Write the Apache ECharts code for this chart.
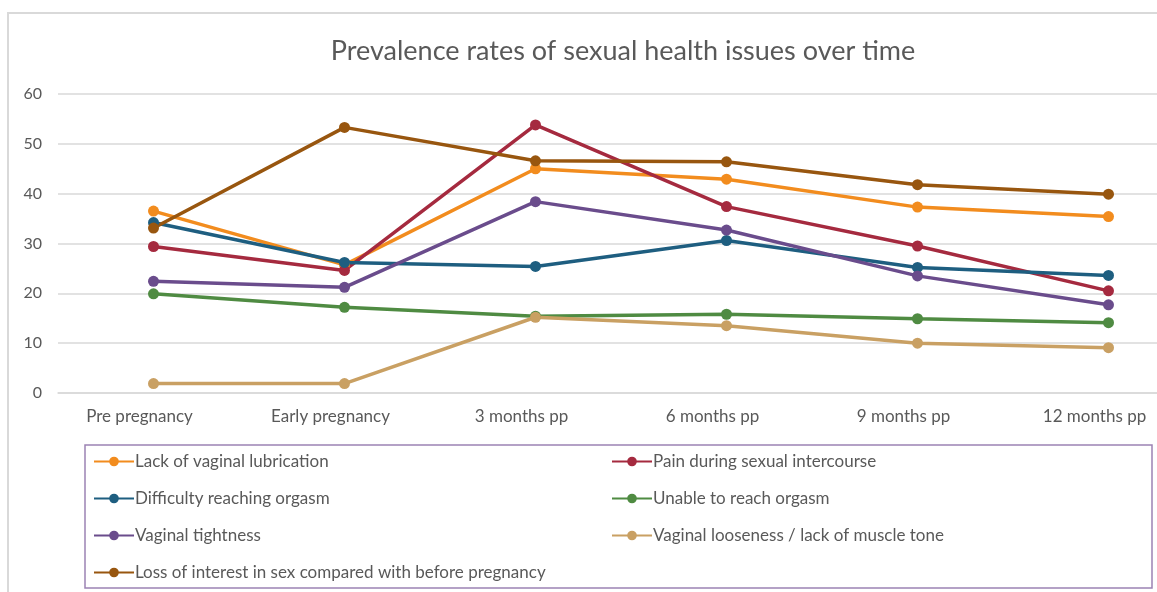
<!DOCTYPE html>
<html>
<head>
<meta charset="utf-8">
<script src="https://cdn.jsdelivr.net/npm/echarts@6/dist/echarts.min.js"></script>
<style>
  html, body { margin: 0; padding: 0; background: #fff; }
  #chart { width: 1157px; height: 592px; }
</style>
</head>
<body>
<div id="chart"></div>
<script>
const categories = ['Pre pregnancy', 'Early pregnancy', '3 months pp', '6 months pp', '9 months pp', '12 months pp']

const lubrication = [36.5, 25.7, 45.0, 42.9, 37.3, 35.4]
const pain = [29.4, 24.6, 53.8, 37.4, 29.5, 20.5]
const difficulty = [34.2, 26.2, 25.4, 30.6, 25.2, 23.6]
const unable = [19.9, 17.2, 15.4, 15.8, 14.9, 14.1]
const tightness = [22.4, 21.2, 38.4, 32.7, 23.5, 17.7]
const looseness = [1.9, 1.9, 15.2, 13.5, 10.0, 9.1]
const lossInterest = [33.1, 53.3, 46.6, 46.4, 41.8, 39.9]

const seriesDefs = [
  { name: 'Lack of vaginal lubrication', data: lubrication, color: '#F28C1E' },
  { name: 'Pain during sexual intercourse', data: pain, color: '#A52A3F' },
  { name: 'Difficulty reaching orgasm', data: difficulty, color: '#1E5E80' },
  { name: 'Unable to reach orgasm', data: unable, color: '#4F8B42' },
  { name: 'Vaginal tightness', data: tightness, color: '#6A4C8C' },
  { name: 'Vaginal looseness / lack of muscle tone', data: looseness, color: '#C9A063' },
  { name: 'Loss of interest in sex compared with before pregnancy', data: lossInterest, color: '#98560F' },
]

const font = 'Lato, "Open Sans", sans-serif'
const chart = echarts.init(document.getElementById('chart'))

// two legend columns, placed by hand inside the framed box
const legendBase = {
  orient: 'vertical',
  top: 448,
  itemWidth: 40,
  itemHeight: 12,
  itemGap: 20,
  textStyle: { fontFamily: font, fontSize: 17, color: '#595959', padding: [0, 0, 0, -4] },
}

chart.setOption({
  animation: false,
  title: {
    text: 'Prevalence rates of sexual health issues over time',
    left: 618,
    textAlign: 'center',
    top: 33,
    textStyle: { fontFamily: font, fontSize: 27, fontWeight: 'normal', color: '#595959' },
  },
  grid: { left: 58, width: 1146, top: 94, height: 299, outerBoundsMode: 'none', containLabel: false },
  xAxis: {
    type: 'category',
    data: categories,
    axisLine: { lineStyle: { color: '#d9d9d9', width: 1.5 } },
    axisTick: { show: false },
    axisLabel: {
      fontFamily: font,
      fontSize: 17,
      color: '#595959',
      margin: 15,
      padding: [0, 28, 0, 0],
    },
  },
  yAxis: {
    type: 'value',
    min: 0,
    max: 60,
    interval: 10,
    axisLine: { show: false },
    axisTick: { show: false },
    axisLabel: { fontFamily: font, fontSize: 16, color: '#595959', margin: 16 },
    splitLine: { lineStyle: { color: '#d9d9d9', width: 1.5 } },
  },
  legend: [
    Object.assign({}, legendBase, {
      left: 88,
      data: [seriesDefs[0].name, seriesDefs[2].name, seriesDefs[4].name, seriesDefs[6].name],
    }),
    Object.assign({}, legendBase, {
      left: 606,
      data: [seriesDefs[1].name, seriesDefs[3].name, seriesDefs[5].name],
    }),
  ],
  graphic: [
    {
      type: 'rect',
      shape: { x: 85, y: 445, width: 1067, height: 143 },
      style: { fill: 'none', stroke: '#9C82B4', lineWidth: 1.5 },
    },
    {
      type: 'polyline',
      shape: { points: [[8, 592], [8, 13], [1157, 13]] },
      style: { fill: 'none', stroke: '#d9d9d9', lineWidth: 2 },
    },
  ],
  series: seriesDefs.map((s) => ({
    name: s.name,
    type: 'line',
    data: s.data,
    symbol: 'circle',
    symbolSize: 11,
    lineStyle: { width: 3.5, color: s.color },
    itemStyle: { color: s.color },
  })),
})
</script>
</body>
</html>
